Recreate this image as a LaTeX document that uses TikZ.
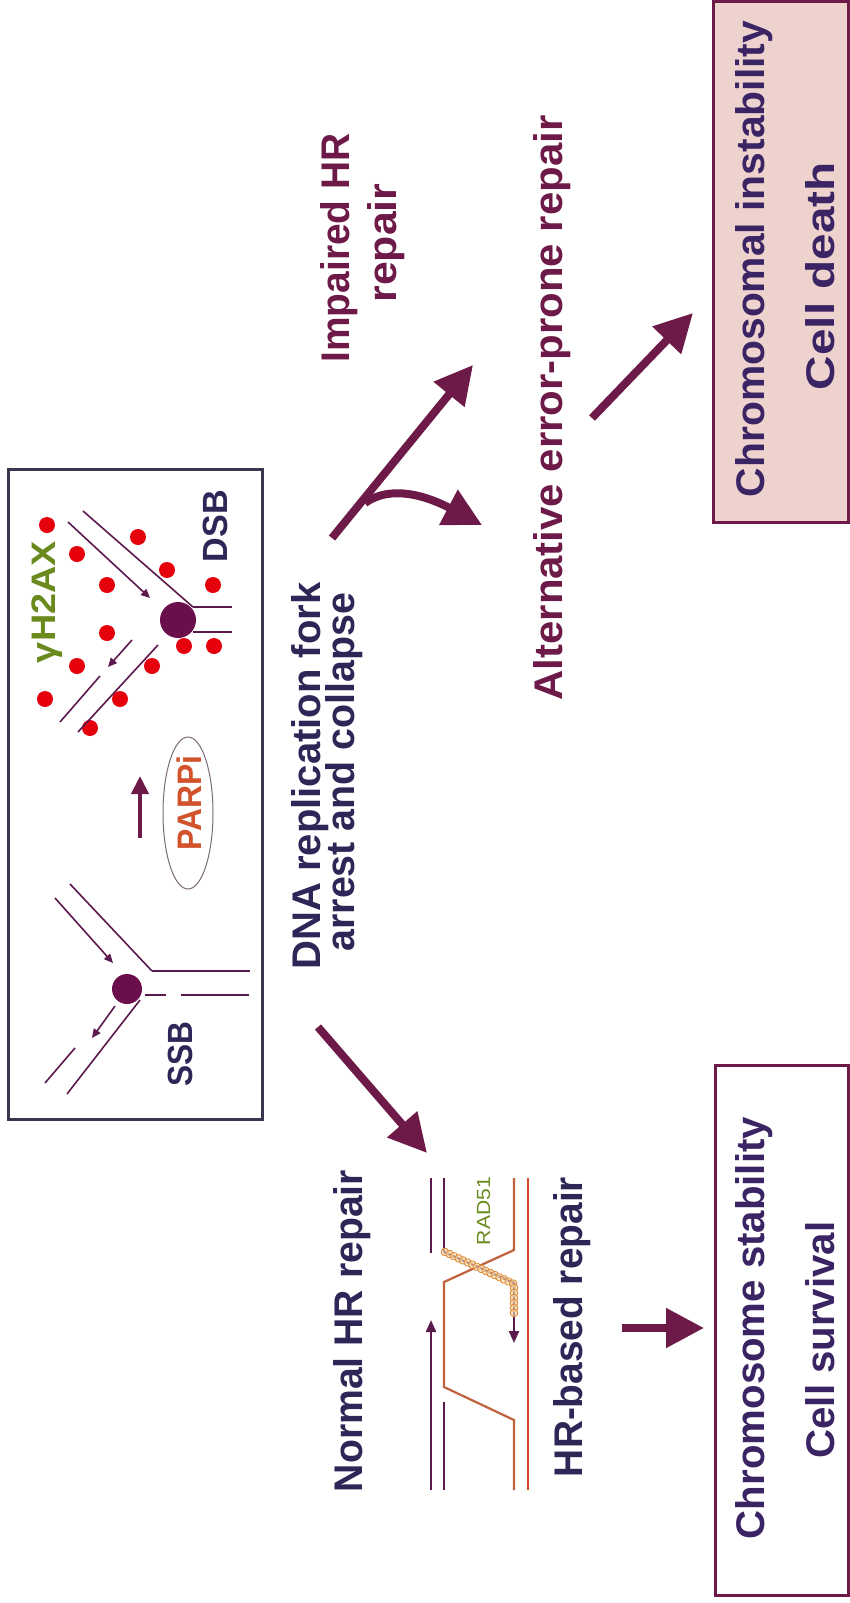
\documentclass[tikz,border=0pt]{standalone}
\usepackage{fontspec}
\setmainfont{Liberation Sans}
\usetikzlibrary{arrows.meta,decorations.markings,shapes.geometric}

\definecolor{maroon}{HTML}{6E1A48}
\definecolor{ink}{HTML}{2F2556}
\definecolor{boxink}{HTML}{3A2464}
\definecolor{strand}{HTML}{5C1A4C}
\definecolor{forkdot}{HTML}{6A0F4C}
\definecolor{focus}{HTML}{E5000C}
\definecolor{olive}{HTML}{6B8A1E}
\definecolor{parp}{HTML}{D2522C}
\definecolor{donor}{HTML}{C0623C}
\definecolor{donorout}{HTML}{D44A2A}
\definecolor{pinkfill}{HTML}{EDD2CE}
\definecolor{frame}{HTML}{3A3650}
\definecolor{bead}{HTML}{E08C3A}
\definecolor{beadfill}{HTML}{F7DFB0}

% stretch a label to a given length along its baseline
\newcommand{\fitw}[2]{\resizebox{#1pt}{\height}{#2}}

\tikzset{
  lbl/.style={rotate=90, anchor=base, inner sep=0pt, outer sep=0pt,
              font=\bfseries\fontsize{40}{42}\selectfont},
  bigarrow/.style={draw=maroon, line width=8pt,
              -{Triangle[length=38pt,width=38pt]}},
  dna/.style={draw=strand, line width=1.6pt},
  nascent/.style={draw=strand, line width=1.6pt,
              -{Triangle[length=9pt,width=8pt]}},
  hrline/.style={line width=2.2pt},
  focusdot/.style={fill=focus},
  outcome/.style={draw=maroon, line width=3pt, inner sep=0pt, outer sep=0pt}
}

\begin{document}
\begin{tikzpicture}[x=1pt, y=-1pt]
\useasboundingbox (0,0) rectangle (850,1603);
\fill[white] (0,0) rectangle (850,1603);

% ---------- frame around the two replication forks ----------
\node[draw=frame, line width=3pt, minimum width=254pt, minimum height=650pt,
      inner sep=0pt, outer sep=0pt] (forkbox) at (135,794) {};

% single-strand break fork
\fill[forkdot] (127,989) circle (15);
\draw[dna] (152,971) -- (250,971);
\draw[dna] (145,995) -- (166,995);
\draw[dna] (181,995) -- (249,995);
\draw[dna] (152,971) -- (70,884);
\draw[nascent] (55,898) -- (113,963);
\draw[dna] (140,1000) -- (67,1094);
\draw[nascent] (115,1006) -- (92,1038);
\draw[dna] (75,1048) -- (45,1083);
\node[lbl, text=ink, font=\bfseries\fontsize{35}{36}\selectfont] (ssb) at (192,1054) {\fitw{65}{SSB}};

% PARP inhibitor
\node[ellipse, draw={rgb,255:red,122;green,106;blue,120}, line width=1pt,
      minimum width=50pt, minimum height=152pt, inner sep=0pt] (parpring) at (188,813) {};
\node[lbl, text=parp, font=\bfseries\fontsize{34}{36}\selectfont] (parpi) at (201,803) {\fitw{95}{PARPi}};
\coordinate (pa1) at (140,838);
\coordinate (pa2) at (140,776);
\draw[draw=maroon, line width=4pt, -{Triangle[length=18pt,width=17pt]}] (pa1) -- (pa2);

% gamma-H2AX foci around the collapsed fork
\foreach \fx/\fy in {47/525, 77/554, 138/537, 107/585, 167/570, 213/585,
                     107/633, 77/666, 152/666, 184/646, 214/646, 45/699,
                     120/699, 90/728}
  \fill[focusdot] (\fx,\fy) circle (8);

% double-strand break fork
\fill[forkdot] (178,620) circle (18);
\draw[dna] (193,607) -- (232,607);
\draw[dna] (193,632) -- (232,632);
\draw[dna] (193,607) -- (83,511);
\draw[nascent] (68,522) -- (150,598);
\draw[dna] (158,645) -- (78,732);
\draw[nascent] (132,640) -- (108,667);
\draw[dna] (100,676) -- (60,722);
\node[lbl, text=ink, font=\bfseries\fontsize{35}{36}\selectfont] (dsb) at (227,526) {\fitw{72}{DSB}};
\node[lbl, text=olive, font=\bfseries\fontsize{34}{36}\selectfont] (gh) at (55,602) {\fitw{122}{γH2AX}};

% ---------- central label ----------
\node[lbl, text=ink] (dna1) at (320,776) {\fitw{387}{DNA replication fork}};
\node[lbl, text=ink] (dna2) at (354,772) {\fitw{359}{arrest and collapse}};

% ---------- impaired HR branch ----------
\node[lbl, text=maroon] (imp1) at (349,248) {\fitw{229}{Impaired HR}};
\node[lbl, text=maroon] (imp2) at (396,243) {\fitw{119}{repair}};
\node[lbl, text=maroon] (alt) at (562,408) {\fitw{585}{Alternative error-prone repair}};

\coordinate (b1) at (332,538);
\coordinate (b2) at (473,365);
\draw[bigarrow] (b1) -- (b2);
\coordinate (c1) at (365,503);
\coordinate (c2) at (482,525);
\draw[bigarrow] (c1) .. controls (390,485) and (425,495) .. (c2);
\coordinate (d1) at (592,418);
\coordinate (d2) at (693,313);
\draw[bigarrow] (d1) -- (d2);

\node[outcome, fill=pinkfill, minimum width=135pt, minimum height=520pt] (bad) at (780.5,262) {};
\node[lbl, text=boxink] (chrI) at (764,259) {\fitw{476}{Chromosomal instability}};
\node[lbl, text=boxink] (death) at (834,276) {\fitw{228}{Cell death}};

% ---------- normal HR branch ----------
\coordinate (a1) at (318,1027);
\coordinate (a2) at (427,1153);
\draw[bigarrow] (a1) -- (a2);

\node[lbl, text=ink] (nhr) at (362,1331) {\fitw{322}{Normal HR repair}};

% strand invasion into the sister duplex
\draw[hrline, draw=strand] (431,1178) -- (431,1253);
\draw[hrline, draw=strand, -{Triangle[length=12pt,width=10pt]}] (431,1490) -- (431,1320);
\draw[hrline, draw=strand] (444,1178) -- (444,1252);
\draw[hrline, draw=strand] (444,1402) -- (444,1490);
\draw[hrline, draw=donor] (514,1178) -- (514,1250) -- (444,1282) -- (444,1387) -- (514,1420) -- (514,1490);
\draw[hrline, draw=donorout] (528,1178) -- (528,1490);
\draw[hrline, draw=strand] (444,1252) -- (514,1283) -- (514,1310);
\draw[hrline, draw=strand, -{Triangle[length=12pt,width=10pt]}] (514,1305) -- (514,1343);
\path[decorate, decoration={markings,
      mark=between positions 0 and 1 step 5pt with
      {\draw[draw=bead, line width=0.9pt, fill=beadfill, fill opacity=0.6] (0,0) circle (3.8pt);}}]
      (445,1252) -- (514,1284) -- (514,1314);
\node[text=olive, rotate=90, anchor=base, inner sep=0pt,
      font=\fontsize{19}{20}\selectfont] (rad) at (490,1211) {\fitw{68}{RAD51}};

\node[lbl, text=ink] (hrb) at (582,1327) {\fitw{300}{HR-based repair}};

\coordinate (e1) at (622,1328);
\coordinate (e2) at (704,1328);
\draw[bigarrow] (e1) -- (e2);

\node[outcome, fill=white, minimum width=133pt, minimum height=530pt] (good) at (781.5,1330) {};
\node[lbl, text=boxink] (chrS) at (764,1328) {\fitw{422}{Chromosome stability}};
\node[lbl, text=boxink] (surv) at (834,1340) {\fitw{237}{Cell survival}};

\end{tikzpicture}
\end{document}
